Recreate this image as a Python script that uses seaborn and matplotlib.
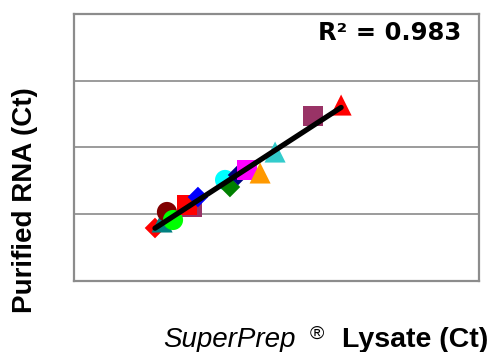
import numpy as np
import pandas as pd
import matplotlib
matplotlib.use("Agg")
import matplotlib.pyplot as plt
import seaborn as sns

# valores (Ct)
lisado_ct = [19.0, 19.35, 19.59, 19.89, 20.83, 20.58, 21.12, 22.46, 22.70,
             23.10, 23.54, 24.19, 24.93, 26.80, 28.19]
purificado_ct = [18.97, 19.42, 20.17, 19.57, 20.54, 20.69, 21.29, 22.57, 22.04,
                 22.94, 23.31, 23.09, 24.66, 27.36, 28.18]
formas = ["D", "^", "o", "o", "s", "s", "D", "o", "D",
          "D", "s", "^", "^", "s", "^"]
cores = ["#FF0000", "#008080", "#800000", "#00FF00", "#993366", "#FF0000",
         "#0000FF", "#00FFFF", "#008000", "#000080", "#FF00FF", "#FF9900",
         "#33CCCC", "#993366", "#FF0000"]
r2_texto = "R\u00b2 = 0.983"

df = pd.DataFrame({
    "lisado": lisado_ct,
    "purificado": purificado_ct,
    "ponto": [f"p{i}" for i in range(len(lisado_ct))],
    "forma": formas,
})

sns.set_style("white")

fig = plt.figure(figsize=(5.04, 3.52), dpi=100)
ax = fig.add_axes([74 / 504, 1 - 281 / 352, 405 / 504, 267 / 352])

tamanhos = {"s": 190, "o": 210, "^": 230, "D": 110}
sns.scatterplot(data=df, x="lisado", y="purificado", hue="ponto", style="ponto",
                size="forma", sizes=tamanhos,
                palette=dict(zip(df["ponto"], cores)),
                markers=dict(zip(df["ponto"], formas)),
                linewidth=0, legend=False, ax=ax, zorder=2)

sns.regplot(data=df, x="lisado", y="purificado", scatter=False, ci=None,
            color="black", line_kws={"lw": 3.8, "solid_capstyle": "round", "zorder": 3},
            ax=ax)

ax.set_xlim(15, 35)
ax.set_ylim(15, 35)
ax.set_xticks([])
ax.set_yticks([20, 25, 30])
ax.set_yticklabels([])
ax.tick_params(length=0)
ax.grid(axis="y", color="#808080", lw=1.1)
ax.set_axisbelow(True)
for sp in ax.spines.values():
    sp.set_color("#8c8c8c")
    sp.set_linewidth(1.6)
ax.set_xlabel("")
ax.set_ylabel("")

ax.text(0.955, 0.93, r2_texto, transform=ax.transAxes, ha="right", va="center",
        fontsize=17.5, fontweight="bold", family="DejaVu Sans", color="black")

# rotulos dos eixos
fig.text(25 / 504, 1 - 200 / 352, "Purified RNA (Ct)", rotation=90,
         ha="center", va="center", fontsize=20, fontweight="bold",
         family="Liberation Sans", color="black")
fig.text(163 / 504, 1 - 347 / 352, "SuperPrep", ha="left", va="baseline",
         fontsize=20, style="italic", family="Liberation Sans", color="black")
fig.text(310 / 504, 1 - 339 / 352, "\u00ae", ha="left", va="baseline",
         fontsize=14, family="Liberation Sans", color="black")
fig.text(342 / 504, 1 - 347 / 352, "Lysate (Ct)", ha="left", va="baseline",
         fontsize=20.5, fontweight="bold", family="Liberation Sans", color="black")

fig.savefig("out.png", dpi=100)
